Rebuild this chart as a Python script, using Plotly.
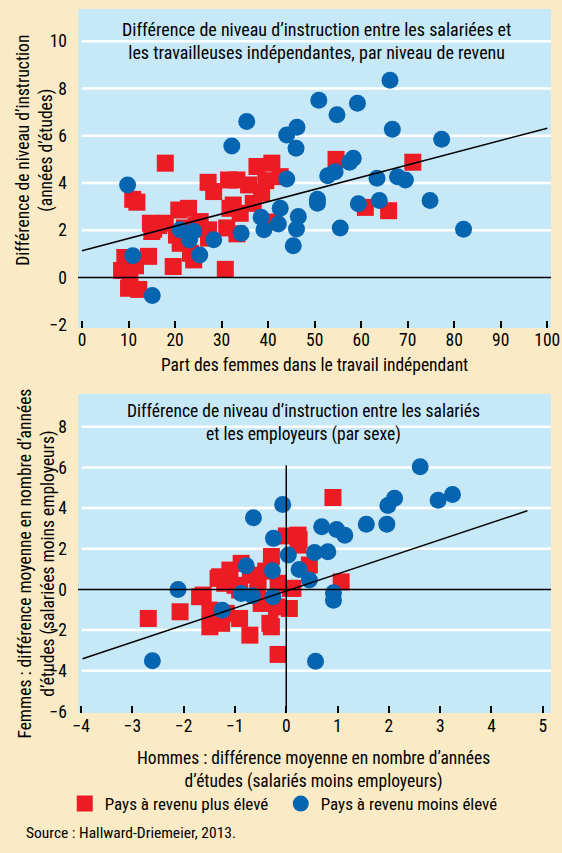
import plotly.graph_objects as go

# ---------------- Top panel data ----------------
top_high_x = [8.5, 9.2, 10.3, 10.0, 12.2, 14.3, 17.9, 10.9, 11.8, 14.7, 15.4, 16.5, 17.9,
              19.6, 20.8, 22.9, 21.1, 23.3, 20.3, 25.4, 27.2, 27.1, 28.3, 30.8, 31.5, 33.3,
              31.8, 32.5, 34.0, 31.1, 33.3, 27.2, 35.8, 36.8, 38.6, 37.6, 40.8, 42.6, 41.3,
              39.5, 54.6, 60.9, 65.9, 71.1, 24.5, 22.0, 15.0, 24.0, 11.5]
top_high_y = [0.3, 0.85, 0.05, -0.45, -0.5, 0.9, 4.84, 3.31, 3.19, 2.3, 2.05, 2.2, 2.3,
              0.47, 2.86, 2.93, 1.45, 1.03, 1.8, 2.37, 2.02, 4.03, 3.64, 0.35, 4.13, 4.13,
              2.93, 3.07, 2.72, 2.1, 1.85, 1.67, 3.92, 3.14, 3.57, 4.7, 4.84, 4.27, 2.35,
              4.1, 5.0, 2.97, 2.83, 4.88, 2.2, 2.1, 1.95, 0.75, 0.5]

top_low_x = [9.8, 10.9, 15.1, 21.1, 24.0, 23.1, 28.3, 25.3, 32.2, 35.4, 44.0, 46.2, 46.0,
             44.0, 42.6, 46.5, 38.5, 42.2, 39.1, 46.1, 45.4, 34.2, 50.9, 59.2, 54.8, 66.2,
             66.7, 77.3, 58.3, 57.5, 54.4, 52.8, 63.4, 67.8, 69.5, 50.6, 50.6, 59.4, 63.9,
             74.8, 55.5, 82.0]
top_low_y = [3.92, 0.93, -0.76, 2.02, 1.96, 1.59, 1.60, 0.96, 5.57, 6.6, 6.03, 6.36, 5.47,
             4.17, 2.93, 2.58, 2.55, 2.27, 2.02, 2.06, 1.35, 1.88, 7.5, 7.37, 6.89, 8.35,
             6.27, 5.85, 5.05, 4.88, 4.48, 4.31, 4.2, 4.27, 4.13, 3.31, 3.15, 3.12, 3.26,
             3.26, 2.1, 2.05]

top_fit_x = [0, 100]
top_fit_y = [1.14, 6.32]

# ---------------- Bottom panel data ----------------
bot_high_x = [-2.69, -2.07, -1.69, -1.62, -1.49, -1.49, -1.40, -1.26, -1.33, -1.30, -1.10,
              -0.88, -0.91, -0.91, -0.71, -0.55, -0.49, -0.56, -0.32, -0.29, -0.29, -0.16,
              0.0, 0.23, 0.23, 0.25, 0.06, 0.08, -0.16, -1.17, 0.91, 1.07, 0.45, 0.13,
              -0.19, -1.20, -0.70, -1.0, -0.40]
bot_high_y = [-1.43, -1.10, -0.36, -0.28, -1.02, -1.84, -1.55, -1.67, 0.54, 0.62, 0.95,
              1.28, -0.03, -1.43, -2.25, 0.46, -0.69, -0.20, -1.67, -1.84, 1.62, -3.20,
              2.63, 2.67, 2.18, 2.45, -0.94, 0.05, 0.30, -1.18, 4.52, 0.37, 1.20, 0.05,
              -0.86, 0.30, 0.70, 0.2, 0.9]

bot_low_x = [-2.11, -2.61, -1.25, -0.64, -0.07, -0.25, 0.04, -0.78, -0.27, -0.88, -0.66,
             -0.26, 2.61, 3.24, 2.96, 2.11, 1.98, 1.56, 1.96, 0.69, 0.98, 1.14, 0.55, 0.81,
             0.25, 0.45, 0.92, 0.92, 0.57]
bot_low_y = [0.0, -3.51, -1.02, 3.52, 4.18, 2.51, 1.69, 1.16, 0.92, -0.20, -0.31, -0.36,
             6.03, 4.67, 4.39, 4.48, 4.13, 3.20, 3.21, 3.08, 2.95, 2.66, 1.82, 1.85, 0.98,
             0.46, -0.17, -0.53, -3.53]

bot_fit_x = [-3.97, 4.70]
bot_fit_y = [-3.41, 3.87]
bot_vline_x = [0, 0]
bot_vline_y = [-6.1, 6.1]

# ---------------- Axis ticks ----------------
top_xticks = list(range(0, 101, 10))
top_yticks = [-2, 0, 2, 4, 6, 8, 10]
top_grid = [2, 4, 6, 8, 10]
bot_xticks = list(range(-4, 6))
bot_yticks = [-6, -4, -2, 0, 2, 4, 6, 8]
bot_grid = [-4, -2, 2, 4, 6, 8]

RED = "#ED1C24"
BLUE = "#0565B0"
PLOT_BG = "#C7E8F7"
PAPER_BG = "#FAEBC6"
FONT = "Liberation Sans Narrow, Arial Narrow, Roboto Condensed, DejaVu Sans Condensed, Liberation Sans, sans-serif"
MS = 17
TICK = 17.5

fig = go.Figure()

# top markers
fig.add_trace(go.Scatter(x=top_high_x, y=top_high_y, mode="markers", xaxis="x", yaxis="y",
                         marker=dict(symbol="square", size=MS, color=RED),
                         showlegend=False))
fig.add_trace(go.Scatter(x=top_low_x, y=top_low_y, mode="markers", xaxis="x", yaxis="y",
                         marker=dict(symbol="circle", size=MS, color=BLUE),
                         showlegend=False))
fig.add_trace(go.Scatter(x=top_fit_x, y=top_fit_y, mode="lines", xaxis="x", yaxis="y",
                         line=dict(color="black", width=1.5), showlegend=False, hoverinfo="skip"))

# bottom markers
fig.add_trace(go.Scatter(x=bot_high_x, y=bot_high_y, mode="markers", xaxis="x2", yaxis="y2",
                         marker=dict(symbol="square", size=MS, color=RED),
                         name="Pays à revenu plus élevé", showlegend=True))
fig.add_trace(go.Scatter(x=bot_low_x, y=bot_low_y, mode="markers", xaxis="x2", yaxis="y2",
                         marker=dict(symbol="circle", size=MS, color=BLUE),
                         name="Pays à revenu moins élevé", showlegend=True))
fig.add_trace(go.Scatter(x=bot_fit_x, y=bot_fit_y, mode="lines", xaxis="x2", yaxis="y2",
                         line=dict(color="black", width=1.5), showlegend=False, hoverinfo="skip"))
fig.add_trace(go.Scatter(x=bot_vline_x, y=bot_vline_y, mode="lines", xaxis="x2", yaxis="y2",
                         line=dict(color="black", width=1.5), showlegend=False, hoverinfo="skip"))

shapes = []
for v in top_grid:
    shapes.append(dict(type="line", xref="x domain", yref="y", x0=0.008, x1=1, y0=v, y1=v,
                       line=dict(color="white", width=2.5), layer="below"))
for v in bot_grid:
    shapes.append(dict(type="line", xref="x2 domain", yref="y2", x0=0.008, x1=1, y0=v, y1=v,
                       line=dict(color="white", width=2.5), layer="below"))
shapes.append(dict(type="line", xref="x domain", yref="y", x0=0, x1=1, y0=0, y1=0,
                   line=dict(color="black", width=1.5), layer="above"))
shapes.append(dict(type="line", xref="x2 domain", yref="y2", x0=0, x1=1, y0=0, y1=0,
                   line=dict(color="black", width=1.5), layer="above"))

axis_common = dict(showline=False, zeroline=False, showgrid=False, automargin=False,
                   tickfont=dict(size=TICK, color="black", family=FONT))

fig.update_layout(
    width=562, height=853,
    margin=dict(l=78, r=11, t=9, b=140, autoexpand=False),
    paper_bgcolor=PAPER_BG, plot_bgcolor=PLOT_BG,
    font=dict(family=FONT, size=16, color="black"),
    xaxis=dict(domain=[0, 1], anchor="y", range=[-0.86, 100.8], tickvals=top_xticks,
               ticks="inside", ticklen=7, tickwidth=1.5, tickcolor="black", **axis_common),
    yaxis=dict(domain=[0.5469, 1], anchor="x", range=[-2.13, 11.36], tickvals=top_yticks,
               ticks="", ticklabelstandoff=10, **axis_common),
    xaxis2=dict(domain=[0, 1], anchor="y2", range=[-4.06, 5.16], tickvals=bot_xticks,
                ticks="inside", ticklen=7, tickwidth=1.5, tickcolor="black", **axis_common),
    yaxis2=dict(domain=[0, 0.4531], anchor="x2", range=[-6.08, 9.61], tickvals=bot_yticks,
                ticks="", ticklabelstandoff=10, **axis_common),
    shapes=shapes,
    legend=dict(orientation="h", x=-0.028, xanchor="left", y=-0.1293, yanchor="middle",
                bgcolor="rgba(0,0,0,0)", font=dict(size=17, family=FONT), entrywidth=171,
                itemclick=False),
)

ann = [
    dict(text="Différence de niveau d’instruction entre les salariées et<br>les travailleuses indépendantes, par niveau de revenu",
         xref="paper", yref="paper", x=0.505, y=0.955, xanchor="center", yanchor="middle",
         showarrow=False, font=dict(size=18)),
    dict(text="Différence de niveau d’instruction<br>(années d’études)",
         xref="paper", yref="paper", x=-0.091, y=0.80, xanchor="center", yanchor="middle",
         textangle=-90, showarrow=False, font=dict(size=17.5)),
    dict(text="Part des femmes dans le travail indépendant",
         xref="paper", yref="paper", x=0.499, y=0.494, xanchor="center", yanchor="middle",
         showarrow=False, font=dict(size=17.5)),
    dict(text="Différence de niveau d’instruction entre les salariés<br>et les employeurs (par sexe)",
         xref="paper", yref="paper", x=0.476, y=0.412, xanchor="center", yanchor="middle",
         showarrow=False, font=dict(size=17.5)),
    dict(text="Femmes : différence moyenne en nombre d’années<br>d’études (salariées moins employeurs)",
         xref="paper", yref="paper", x=-0.087, y=0.212, xanchor="center", yanchor="middle",
         textangle=-90, showarrow=False, font=dict(size=17.5)),
    dict(text="Hommes : différence moyenne en nombre d’années<br>d’études (salariés moins employeurs)",
         xref="paper", yref="paper", x=0.497, y=-0.081, xanchor="center", yanchor="middle",
         showarrow=False, font=dict(size=17.5)),
    dict(text="Source : Hallward-Driemeier, 2013.",
         xref="paper", yref="paper", x=-0.114, y=-0.1705, xanchor="left", yanchor="middle",
         showarrow=False, font=dict(size=15.5)),
]
fig.update_layout(annotations=ann)

fig.write_html(
    "out.html",
    config={"displayModeBar": False},
    post_script="document.body.style.margin='0';document.body.style.background='" + PAPER_BG + "';",
)
